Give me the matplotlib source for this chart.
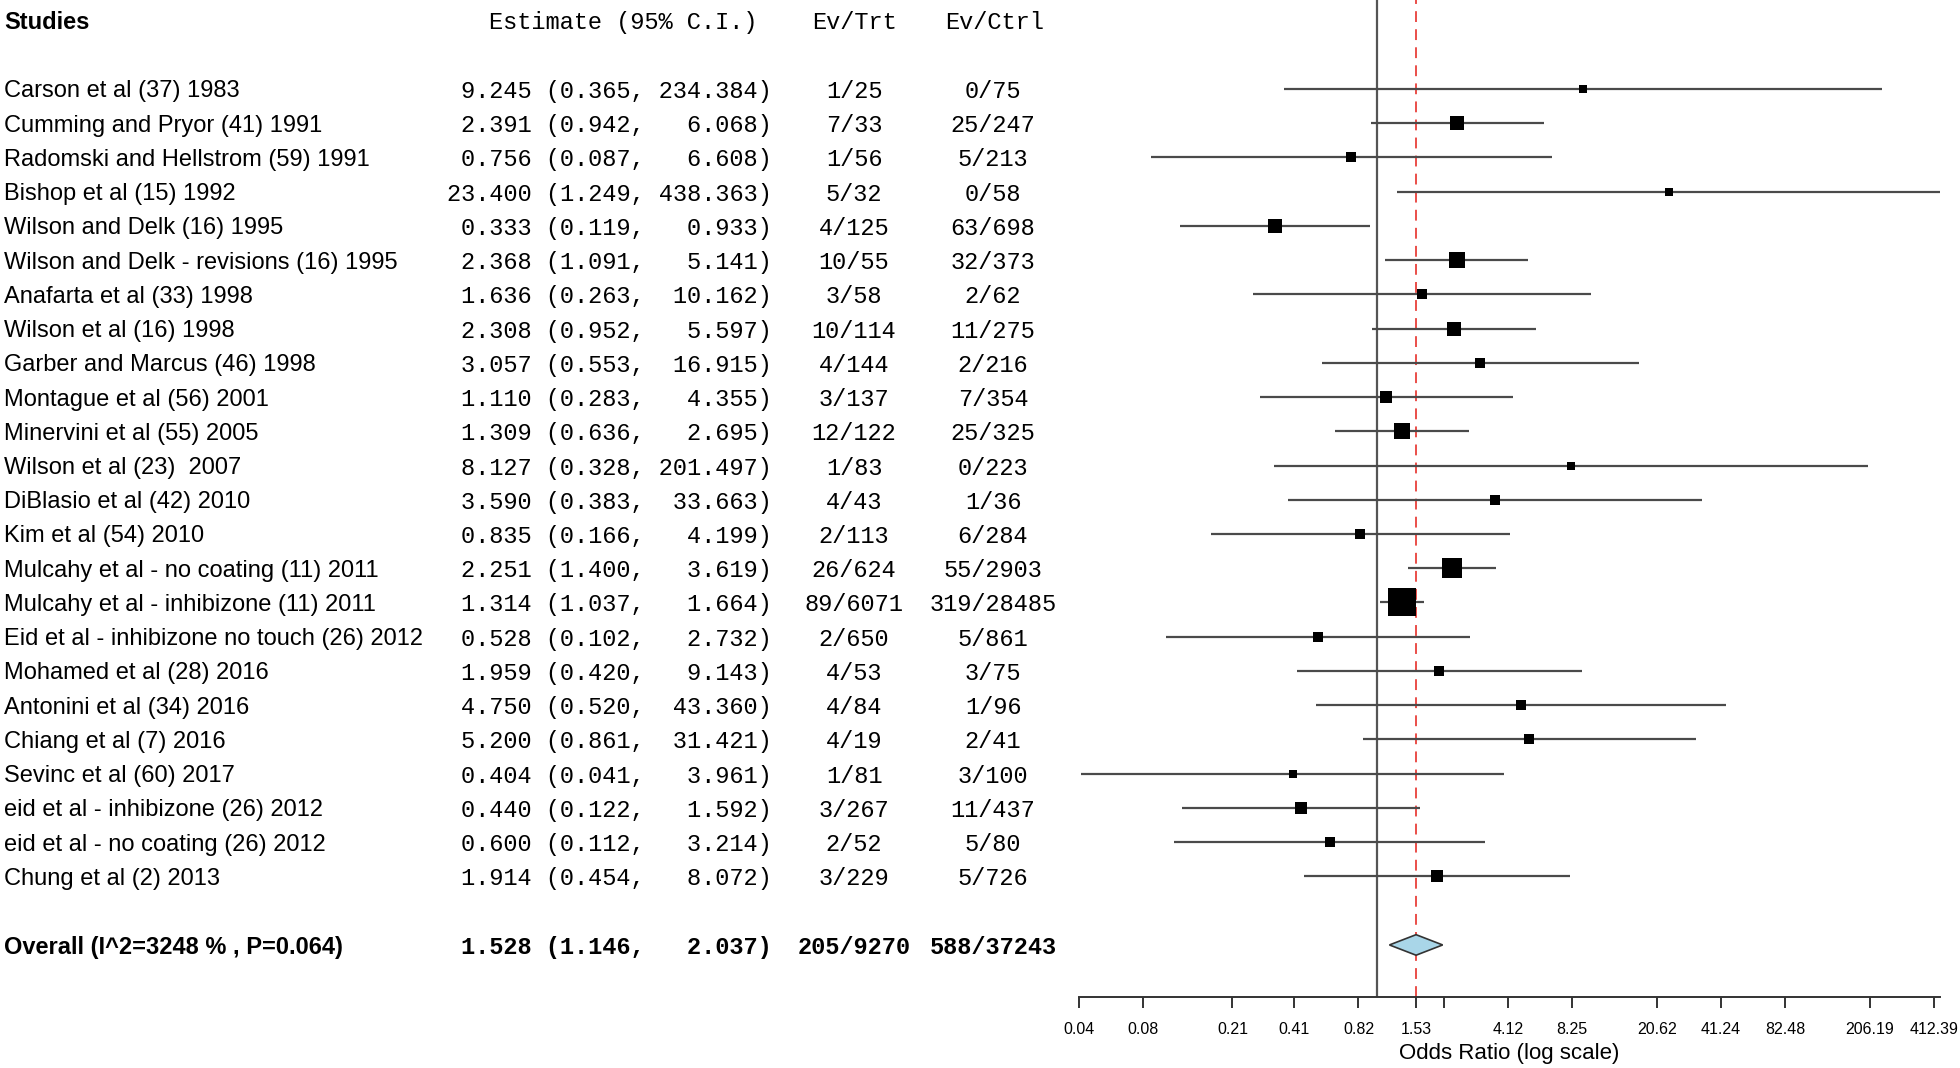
import numpy as np
import matplotlib
matplotlib.use('Agg')
import matplotlib.pyplot as plt
from matplotlib.transforms import blended_transform_factory

# ─── data ───
studies = [
    'Carson et al (37) 1983',
    'Cumming and Pryor (41) 1991',
    'Radomski and Hellstrom (59) 1991',
    'Bishop et al (15) 1992',
    'Wilson and Delk (16) 1995',
    'Wilson and Delk - revisions (16) 1995',
    'Anafarta et al (33) 1998',
    'Wilson et al (16) 1998',
    'Garber and Marcus (46) 1998',
    'Montague et al (56) 2001',
    'Minervini et al (55) 2005',
    'Wilson et al (23)  2007',
    'DiBlasio et al (42) 2010',
    'Kim et al (54) 2010',
    'Mulcahy et al - no coating (11) 2011',
    'Mulcahy et al - inhibizone (11) 2011',
    'Eid et al - inhibizone no touch (26) 2012',
    'Mohamed et al (28) 2016',
    'Antonini et al (34) 2016',
    'Chiang et al (7) 2016',
    'Sevinc et al (60) 2017',
    'eid et al - inhibizone (26) 2012',
    'eid et al - no coating (26) 2012',
    'Chung et al (2) 2013',
]
est = [9.245, 2.391, 0.756, 23.400, 0.333, 2.368, 1.636, 2.308, 3.057, 1.110, 1.309, 8.127,
       3.590, 0.835, 2.251, 1.314, 0.528, 1.959, 4.750, 5.200, 0.404, 0.440, 0.600, 1.914]
ci_lo = [0.365, 0.942, 0.087, 1.249, 0.119, 1.091, 0.263, 0.952, 0.553, 0.283, 0.636, 0.328,
         0.383, 0.166, 1.400, 1.037, 0.102, 0.420, 0.520, 0.861, 0.041, 0.122, 0.112, 0.454]
ci_hi = [234.384, 6.068, 6.608, 438.363, 0.933, 5.141, 10.162, 5.597, 16.915, 4.355, 2.695, 201.497,
         33.663, 4.199, 3.619, 1.664, 2.732, 9.143, 43.360, 31.421, 3.961, 1.592, 3.214, 8.072]
ev_trt = ['1/25', '7/33', '1/56', '5/32', '4/125', '10/55', '3/58', '10/114', '4/144', '3/137',
          '12/122', '1/83', '4/43', '2/113', '26/624', '89/6071', '2/650', '4/53', '4/84', '4/19',
          '1/81', '3/267', '2/52', '3/229']
ev_ctrl = ['0/75', '25/247', '5/213', '0/58', '63/698', '32/373', '2/62', '11/275', '2/216', '7/354',
           '25/325', '0/223', '1/36', '6/284', '55/2903', '319/28485', '5/861', '3/75', '1/96', '2/41',
           '3/100', '11/437', '5/80', '5/726']

overall_label = 'Overall (I^2=3248 % , P=0.064)'
overall_est, overall_lo, overall_hi = 1.528, 1.146, 2.037
overall_trt, overall_ctrl = '205/9270', '588/37243'

tick_vals = [0.04, 0.08, 0.21, 0.41, 0.82, 1.53, 2.06, 4.12, 8.25, 20.62, 41.24, 82.48, 206.19, 412.39]
tick_labels = ['0.04', '0.08', '0.21', '0.41', '0.82', '1.53', '', '4.12', '8.25', '20.62',
               '41.24', '82.48', '206.19', '412.39']

# ─── figure ───
W, H = 1960, 1068
fig = plt.figure(figsize=(W / 100, H / 100), dpi=100)
fig.patch.set_facecolor('white')

ax = fig.add_axes([1079 / W, (H - 997) / H, (1940 - 1079) / W, 997 / H])
ax.set_xscale('log')
ax.set_xlim(0.04, 440)
ax.set_ylim(26.52, -2.593)

SANS = ['Liberation Sans', 'DejaVu Sans']
MONO = ['Liberation Mono', 'DejaVu Sans Mono']
fs_txt = 17
fs_mono = 17

n = len(studies)
rows = np.arange(n)
overall_row = n + 1

# box size from inverse variance weight
se = (np.log(ci_hi) - np.log(ci_lo)) / 3.92
w = 1 / se ** 2
box_px = 9.7 * w ** 0.25

ax.axvline(1.0, color='#555555', lw=1.6, zorder=1)
ax.axvline(overall_est, color='#e8403a', lw=1.3, ls=(0, (6, 4)), zorder=1)

for i in rows:
    ax.plot([ci_lo[i], ci_hi[i]], [i, i], color='#4a4a4a', lw=1.6, zorder=2, solid_capstyle='butt')
    s_pt = box_px[i] / 1.389
    ax.scatter([est[i]], [i], marker='s', s=s_pt ** 2, color='black', zorder=3, linewidths=0)

dh = 0.3
ax.fill([overall_lo, overall_est, overall_hi, overall_est],
        [overall_row, overall_row - dh, overall_row, overall_row + dh],
        facecolor='#a9d6e8', edgecolor='#333333', lw=1.2, zorder=3)

for sp in ['top', 'left', 'right']:
    ax.spines[sp].set_visible(False)
ax.spines['bottom'].set_color('#333333')
ax.spines['bottom'].set_linewidth(1.4)
ax.set_yticks([])
ax.set_xticks(tick_vals)
ax.set_xticklabels(tick_labels, fontsize=11.5, family=SANS)
ax.minorticks_off()
ax.tick_params(axis='x', direction='out', length=8, width=1.4, color='#333333', pad=10)
ax.set_xlabel('Odds Ratio (log scale)', fontsize=16, family=SANS, labelpad=4)

# ─── text columns ───
tr = blended_transform_factory(fig.transFigure, ax.transData)
x_name = 4 / W
x_est = 772 / W
x_trt = 854 / W
x_ctrl = 993 / W
VA = 'center_baseline'

hdr = -2
ax.text(x_name, hdr, 'Studies', transform=tr, ha='left', va=VA, fontsize=fs_txt,
        family=SANS, fontweight='bold')
ax.text(757 / W, hdr, 'Estimate (95% C.I.)', transform=tr, ha='right', va=VA,
        fontsize=fs_mono, family=MONO)
ax.text(x_trt, hdr, 'Ev/Trt', transform=tr, ha='center', va=VA, fontsize=fs_mono, family=MONO)
ax.text(995 / W, hdr, 'Ev/Ctrl', transform=tr, ha='center', va=VA, fontsize=fs_mono, family=MONO)

for i in rows:
    ax.text(x_name, i, studies[i], transform=tr, ha='left', va=VA, fontsize=fs_txt, family=SANS)
    s = f'{est[i]:.3f} ({ci_lo[i]:.3f}, {ci_hi[i]:7.3f})'
    ax.text(x_est, i, s, transform=tr, ha='right', va=VA, fontsize=fs_mono, family=MONO)
    ax.text(x_trt, i, ev_trt[i], transform=tr, ha='center', va=VA, fontsize=fs_mono, family=MONO)
    ax.text(x_ctrl, i, ev_ctrl[i], transform=tr, ha='center', va=VA, fontsize=fs_mono, family=MONO)

ax.text(x_name, overall_row, overall_label, transform=tr, ha='left', va=VA, fontsize=fs_txt,
        family=SANS, fontweight='bold')
s = f'{overall_est:.3f} ({overall_lo:.3f}, {overall_hi:7.3f})'
ax.text(x_est, overall_row, s, transform=tr, ha='right', va=VA, fontsize=fs_mono,
        family=MONO, fontweight='bold')
ax.text(x_trt, overall_row, overall_trt, transform=tr, ha='center', va=VA, fontsize=fs_mono,
        family=MONO, fontweight='bold')
ax.text(x_ctrl, overall_row, overall_ctrl, transform=tr, ha='center', va=VA, fontsize=fs_mono,
        family=MONO, fontweight='bold')

fig.savefig('out.png', dpi=100)
